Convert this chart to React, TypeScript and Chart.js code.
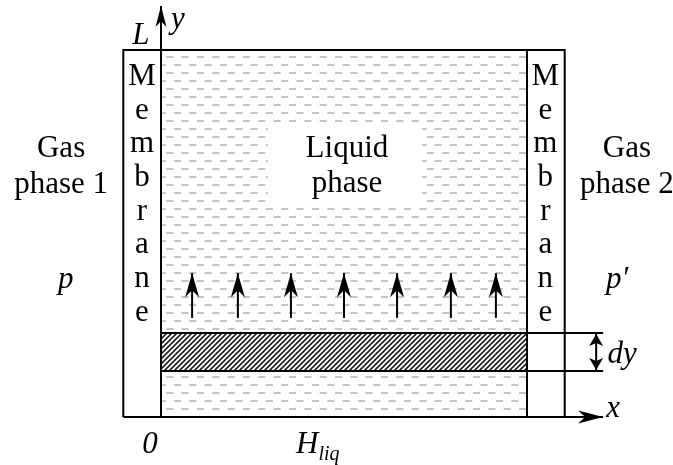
import React, { useEffect, useRef } from "react";
import { Chart, registerables } from "chart.js";

Chart.register(...registerables);

// ---- Diagram values (units: H_liq = 10, L = 10) ----
const H_LIQ = 10;
const L_HEIGHT = 10;
const MEMBRANE = 1.03;
const STRIP_Y = 1.25;
const STRIP_DY = 1.04;
const AXIS_X_END = 12.08;
const AXIS_Y_END = 11.2;
const DY_MARK_X = 11.89;
const FLUX_X = [0.85, 2.1, 3.55, 5.0, 6.45, 7.92, 9.15];
const FLUX_FROM = 2.7;
const FLUX_TO = 3.92;
const LABEL_BOX_X = [2.92, 7.13];
const LABEL_BOX_Y = [5.78, 7.96];

// ---- Text ----
const MEMBRANE_LETTERS = ["M", "e", "m", "b", "r", "a", "n", "e"];
const GAS_LEFT = ["Gas", "phase 1"];
const GAS_RIGHT = ["Gas", "phase 2"];
const LIQUID_TEXT = ["Liquid", "phase"];
const PRESSURE_TEXT = ["p", "p\u2032"];
const AXIS_TEXT = { L: "L", y: "y", x: "x", dy: "dy", zero: "0", H: "H", Hsub: "liq" };

// ---- Layout (where the annotations sit, in diagram units) ----
const LAYOUT = {
  gasX: [-2.73, 12.73],
  gasY: [7.08, 6.1],
  pressureX: [-2.6, 12.46],
  pressureY: 3.51,
  membraneX: [-0.52, 10.5],
  membraneTop: 9.05,
  membraneStep: 0.918,
  liquidX: 5.08,
  liquidY: [7.08, 6.13],
  L: [-0.55, 10.16],
  y: [0.46, 10.6],
  x: [12.35, 0.0],
  dy: [12.6, 1.47],
  zero: [-0.3, -0.98],
  H: [3.69, -0.98],
};

const FONT = "'Liberation Serif', 'Times New Roman', serif";
const FS = 31;
const FS_SUB = 20;

function makeDashPattern(): CanvasPattern | string {
  const c = document.createElement("canvas");
  c.width = 46;
  c.height = 16;
  const g = c.getContext("2d");
  if (!g) return "#ddd";
  g.fillStyle = "#ffffff";
  g.fillRect(0, 0, 46, 16);
  g.fillStyle = "#c4c4c4";
  const p = 46 / 3;
  for (let k = -1; k <= 3; k++) {
    g.fillRect(13 + p * k, 8, 7, 2);
    g.fillRect(5.3 + p * k, 0, 7, 2);
  }
  return g.createPattern(c, "repeat") || "#ddd";
}

function makeHatchPattern(): CanvasPattern | string {
  const s = 5;
  const c = document.createElement("canvas");
  c.width = s;
  c.height = s;
  const g = c.getContext("2d");
  if (!g) return "#888";
  g.fillStyle = "#ffffff";
  g.fillRect(0, 0, s, s);
  g.strokeStyle = "#1e1e1e";
  g.lineWidth = 1.6;
  g.beginPath();
  g.moveTo(-1, s + 1);
  g.lineTo(s + 1, -1);
  g.moveTo(-1, 1);
  g.lineTo(1, -1);
  g.moveTo(s - 1, s + 1);
  g.lineTo(s + 1, s - 1);
  g.stroke();
  return g.createPattern(c, "repeat") || "#888";
}

function arrowHead(ctx: CanvasRenderingContext2D, x: number, y: number, ang: number, len: number, half: number, notch: number) {
  ctx.save();
  ctx.translate(x, y);
  ctx.rotate(ang);
  ctx.beginPath();
  ctx.moveTo(0, 0);
  ctx.lineTo(-len, -half);
  ctx.lineTo(-len + notch, 0);
  ctx.lineTo(-len, half);
  ctx.closePath();
  ctx.fillStyle = "#000";
  ctx.fill();
  ctx.restore();
}

const arrowPlugin = {
  id: "arrowHeads",
  afterDatasetsDraw(chart: any) {
    const ctx = chart.ctx as CanvasRenderingContext2D;
    chart.data.datasets.forEach((ds: any, i: number) => {
      if (!ds.arrow) return;
      const pts = chart.getDatasetMeta(i).data;
      if (pts.length < 2) return;
      const [len, half, notch] = ds.arrowSize;
      const a = pts[pts.length - 2];
      const b = pts[pts.length - 1];
      arrowHead(ctx, b.x, b.y, Math.atan2(b.y - a.y, b.x - a.x), len, half, notch);
      if (ds.arrow === "both") {
        const c0 = pts[1];
        const d0 = pts[0];
        arrowHead(ctx, d0.x, d0.y, Math.atan2(d0.y - c0.y, d0.x - c0.x), len, half, notch);
      }
    });
  },
};

const textPlugin = {
  id: "diagramText",
  afterDatasetsDraw(chart: any) {
    const ctx = chart.ctx as CanvasRenderingContext2D;
    const sx = chart.scales.x;
    const sy = chart.scales.y;
    const put = (t: string, ux: number, uy: number, italic = false, align: CanvasTextAlign = "center", size = FS) => {
      ctx.font = `${italic ? "italic " : ""}${size}px ${FONT}`;
      ctx.textAlign = align;
      ctx.textBaseline = "alphabetic";
      ctx.fillStyle = "#000";
      ctx.fillText(t, sx.getPixelForValue(ux), sy.getPixelForValue(uy));
    };
    ctx.save();
    GAS_LEFT.forEach((t, i) => put(t, LAYOUT.gasX[0], LAYOUT.gasY[i]));
    GAS_RIGHT.forEach((t, i) => put(t, LAYOUT.gasX[1], LAYOUT.gasY[i]));
    LIQUID_TEXT.forEach((t, i) => put(t, LAYOUT.liquidX, LAYOUT.liquidY[i]));
    PRESSURE_TEXT.forEach((t, i) => put(t, LAYOUT.pressureX[i], LAYOUT.pressureY, true));
    LAYOUT.membraneX.forEach((mx) =>
      MEMBRANE_LETTERS.forEach((t, i) => put(t, mx, LAYOUT.membraneTop - i * LAYOUT.membraneStep))
    );
    put(AXIS_TEXT.L, LAYOUT.L[0], LAYOUT.L[1], true);
    put(AXIS_TEXT.y, LAYOUT.y[0], LAYOUT.y[1], true);
    put(AXIS_TEXT.x, LAYOUT.x[0], LAYOUT.x[1], true);
    put(AXIS_TEXT.dy, LAYOUT.dy[0], LAYOUT.dy[1], true);
    put(AXIS_TEXT.zero, LAYOUT.zero[0], LAYOUT.zero[1], true);
    put(AXIS_TEXT.H, LAYOUT.H[0], LAYOUT.H[1], true, "left");
    ctx.font = `italic ${FS}px ${FONT}`;
    const hw = ctx.measureText(AXIS_TEXT.H).width;
    ctx.font = `italic ${FS_SUB}px ${FONT}`;
    ctx.textAlign = "left";
    ctx.fillText(AXIS_TEXT.Hsub, sx.getPixelForValue(LAYOUT.H[0]) + hw, sy.getPixelForValue(LAYOUT.H[1]) + 7);
    ctx.restore();
  },
};

const line = (pts: number[][], extra: any = {}) => ({
  data: pts.map(([x, y]) => ({ x, y })),
  borderColor: "#000",
  borderWidth: 2,
  pointRadius: 0,
  fill: false,
  tension: 0,
  order: 1,
  ...extra,
});

export default function App() {
  const ref = useRef<HTMLCanvasElement>(null);
  useEffect(() => {
    if (!ref.current) return;
    const dash = makeDashPattern();
    const hatch = makeHatchPattern();
    const datasets: any[] = [
      // liquid region with dashed texture
      line([[0, L_HEIGHT], [H_LIQ, L_HEIGHT]], { fill: { value: 0 }, backgroundColor: dash, borderWidth: 0, order: 20 }),
      // white box behind the "Liquid phase" label
      line([[LABEL_BOX_X[0], LABEL_BOX_Y[1]], [LABEL_BOX_X[1], LABEL_BOX_Y[1]]], {
        fill: { value: LABEL_BOX_Y[0] }, backgroundColor: "#fff", borderWidth: 0, order: 15,
      }),
      // hatched strip dy
      line([[0, STRIP_Y + STRIP_DY], [H_LIQ, STRIP_Y + STRIP_DY]], {
        fill: { value: STRIP_Y }, backgroundColor: hatch, borderWidth: 0, order: 15,
      }),
      // outer box
      line([[-MEMBRANE, 0], [-MEMBRANE, L_HEIGHT], [H_LIQ + MEMBRANE, L_HEIGHT], [H_LIQ + MEMBRANE, 0]]),
      // right inner membrane border
      line([[H_LIQ, 0], [H_LIQ, L_HEIGHT]]),
      // strip borders
      line([[0, STRIP_Y], [AXIS_X_END, STRIP_Y]]),
      line([[0, STRIP_Y + STRIP_DY], [AXIS_X_END, STRIP_Y + STRIP_DY]]),
      // x axis
      line([[-MEMBRANE, 0], [AXIS_X_END, 0]], { arrow: "end", arrowSize: [25, 6.5, 7] }),
      // y axis
      line([[0, 0], [0, AXIS_Y_END]], { arrow: "end", arrowSize: [21, 5.5, 6] }),
      // dy marker
      line([[DY_MARK_X, STRIP_Y + 0.03], [DY_MARK_X, STRIP_Y + STRIP_DY - 0.03]], { arrow: "both", arrowSize: [12, 7, 3] }),
      // flux arrows
      ...FLUX_X.map((fx) => line([[fx, FLUX_FROM], [fx, FLUX_TO]], { arrow: "end", arrowSize: [24, 7, 7] })),
    ];
    const chart = new Chart(ref.current, {
      type: "line",
      data: { datasets },
      options: {
        animation: false,
        responsive: false,
        maintainAspectRatio: false,
        devicePixelRatio: 1,
        layout: { padding: 0 },
        events: [],
        plugins: { legend: { display: false }, tooltip: { enabled: false }, filler: { propagate: false } },
        scales: {
          x: { type: "linear", display: false, min: -4.399, max: 13.989 },
          y: { type: "linear", display: false, min: -1.308, max: 11.362 },
        },
      } as any,
      plugins: [arrowPlugin, textPlugin],
    });
    return () => chart.destroy();
  }, []);
  return (
    <div style={{ position: "fixed", left: 0, top: 0, width: 673, height: 465, background: "#fff" }}>
      <canvas ref={ref} width={673} height={465} style={{ display: "block" }} />
    </div>
  );
}
